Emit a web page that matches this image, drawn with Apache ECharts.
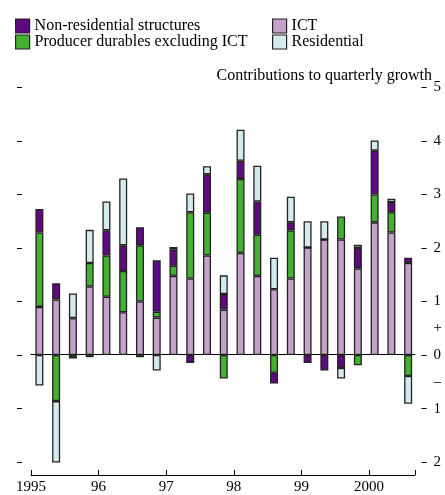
<!DOCTYPE html>
<html>
<head>
<meta charset="utf-8">
<script src="https://cdn.jsdelivr.net/npm/echarts@6/dist/echarts.min.js"></script>
<style>html,body{margin:0;padding:0;background:#fff}#c{width:445px;height:495px}</style>
</head>
<body>
<div id="c"></div>
<script>
// Quarters 1995Q1 .. 2000Q3
const quarters = ['95Q1','95Q2','95Q3','95Q4','96Q1','96Q2','96Q3','96Q4','97Q1','97Q2','97Q3','97Q4','98Q1','98Q2','98Q3','98Q4','99Q1','99Q2','99Q3','99Q4','00Q1','00Q2','00Q3'];
const ict       = [0.90,1.04,0.69,1.28,1.09,0.80,1.00,0.70,1.48,1.43,1.86,0.85,1.91,1.48,1.23,1.43,2.01,2.16,2.16,1.62,2.48,2.29,1.72];
const producer  = [1.39,-0.86,-0.05,0.44,0.77,0.77,1.05,0.11,0.19,1.24,0.80,-0.44,1.38,0.77,-0.33,0.90,0,0,0.43,-0.19,0.52,0.38,-0.39];
const nonres    = [0.44,0.30,0,-0.04,0.47,0.48,0.34,0.96,0.30,-0.15,0.72,0.29,0.34,0.62,-0.20,0.15,-0.15,-0.29,-0.24,0.38,0.82,0.19,0.10];
const resid     = [-0.57,-1.15,0.46,0.62,0.54,1.25,-0.04,-0.29,0.05,0.35,0.15,0.35,0.58,0.67,0.59,0.48,0.49,0.34,-0.20,0.06,0.19,0.06,-0.52];
const yearTicks = [1995,1996,1997,1998,1999,2000];
const yearLabels = ['1995','96','97','98','99','2000'];
const yTicks = [-2,-1,0,1,2,3,4,5];

const FONT = '"Liberation Serif", "Times New Roman", serif';
const COL = {nonres:'#5f0a80', prod:'#45b132', ict:'#c4a2c9', res:'#d3ebec'};
const BORDER = '#222';

const chart = echarts.init(document.getElementById('c'), null, {renderer:'canvas'});
const YMIN = -2.26, YMAX = 5;
function bar(name, data, color){
  return {name, type:'bar', stack:'s', data, xAxisIndex:0, yAxisIndex:0,
    barWidth:8, itemStyle:{color, borderColor:BORDER, borderWidth:1.3},
    emphasis:{disabled:true}};
}
chart.setOption({
  animation:false,
  grid:[
    {left:31, right:25, top:87.5, bottom:19},
    {left:31, right:30, top:87.5, bottom:19}
  ],
  legend:[
    {orient:'vertical', left:15, top:18, padding:0, itemGap:0, itemWidth:14, itemHeight:14,
     icon:'rect', selectedMode:false,
     itemStyle:{borderColor:BORDER, borderWidth:1.2},
     textStyle:{fontFamily:FONT, fontSize:16, color:'#000', lineHeight:15},
     data:['Non-residential structures','Producer durables excluding ICT']},
    {orient:'vertical', left:272, top:18, padding:0, itemGap:0, itemWidth:14, itemHeight:14,
     icon:'rect', selectedMode:false,
     itemStyle:{borderColor:BORDER, borderWidth:1.2},
     textStyle:{fontFamily:FONT, fontSize:16, color:'#000', lineHeight:15},
     data:['ICT','Residential']}
  ],
  xAxis:[
    {type:'category', gridIndex:0, data:quarters, boundaryGap:true,
     axisLine:{show:false}, axisTick:{show:false}, axisLabel:{show:false}},
    {type:'value', gridIndex:1, position:'bottom', min:1995, max:2000.68, interval:1,
     axisLine:{show:true, onZero:false, lineStyle:{color:'#000', width:1}},
     axisTick:{show:true, inside:true, length:5, lineStyle:{color:'#000'}},
     axisLabel:{show:true, margin:5, fontFamily:FONT, fontSize:15, color:'#000',
       formatter:v=>{const i=yearTicks.indexOf(v); return i>=0?yearLabels[i]:'';}},
     splitLine:{show:false}},
    {type:'value', gridIndex:1, position:'top', min:0, max:1,
     axisLine:{show:true, onZero:true, lineStyle:{color:'#000', width:1}},
     axisTick:{show:false}, axisLabel:{show:false}, splitLine:{show:false}}
  ],
  yAxis:[
    {type:'value', gridIndex:0, position:'right', offset:5, min:YMIN, max:YMAX,
     axisLine:{show:false}, splitLine:{show:false},
     axisTick:{show:true, inside:false, length:5, customValues:yTicks, lineStyle:{color:'#000'}},
     axisLabel:{show:true, margin:12, fontFamily:FONT, fontSize:15, color:'#000',
       customValues:[-2,-1,-0.5,0,0.5,1,2,3,4,5],
       formatter:v=> v===0.5?'+':(v===-0.5?'–':String(Math.abs(v)))}},
    {type:'value', gridIndex:0, position:'left', offset:9, min:YMIN, max:YMAX,
     axisLine:{show:false}, splitLine:{show:false}, axisLabel:{show:false},
     axisTick:{show:true, inside:false, length:5, customValues:yTicks, lineStyle:{color:'#000'}}},
    {type:'value', gridIndex:1, min:YMIN, max:YMAX, show:false,
     axisLine:{show:false}, splitLine:{show:false}}
  ],
  graphic:[
    {type:'text', right:13, top:68, style:{text:'Contributions to quarterly growth', font:'16px '+FONT, fill:'#000', textAlign:'right'}}
  ],
  series:[
    bar('ICT', ict, COL.ict),
    bar('Producer durables excluding ICT', producer, COL.prod),
    bar('Non-residential structures', nonres, COL.nonres),
    bar('Residential', resid, COL.res)
  ]
});
</script>
</body>
</html>
